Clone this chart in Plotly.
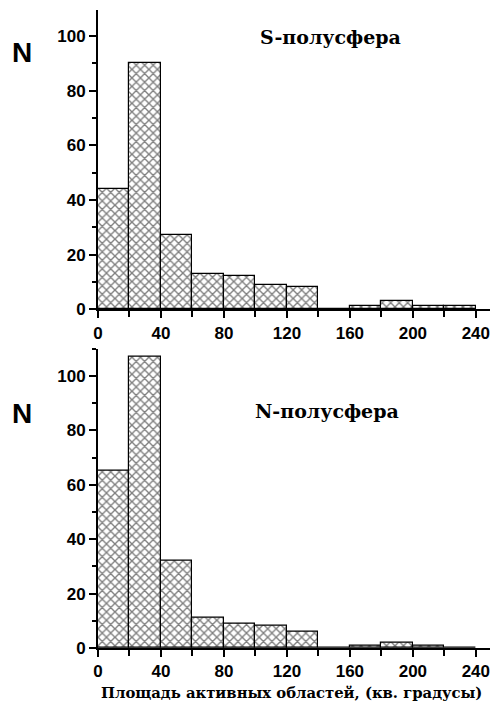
import plotly.graph_objects as go
from plotly.subplots import make_subplots

bin_left = [0, 20, 40, 60, 80, 100, 120, 140, 160, 180, 200, 220]
bin_width = 20
s_counts = [44, 90, 27, 13, 12, 9, 8, 0, 1, 3, 1, 1]
n_counts = [65, 107, 32, 11, 9, 8, 6, 0, 1, 2, 1, 0]
x_ticks = [0, 40, 80, 120, 160, 200, 240]
y_ticks = [0, 20, 40, 60, 80, 100]
panel_titles = ["S-полусфера", "N-полусфера"]
x_title = "Площадь активных областей, (кв. градусы)"

centers = [b + bin_width / 2 for b in bin_left]

fig = make_subplots(rows=2, cols=1, vertical_spacing=0.062)

for i, counts in enumerate([s_counts, n_counts]):
    fig.add_trace(go.Bar(
        x=centers, y=counts, width=bin_width,
        marker=dict(color="white",
                    line=dict(color="black", width=1.2),
                    pattern=dict(shape="x", size=6, solidity=0.4,
                                 fgcolor="black", bgcolor="white")),
        showlegend=False,
    ), row=i + 1, col=1)

tickfont = dict(family="Liberation Sans, Arial", size=17, color="black", weight="bold")
axis_common = dict(showline=True, linecolor="black", linewidth=1.8, showgrid=False,
                   zeroline=False, ticks="outside", ticklen=7, tickwidth=1.5,
                   tickcolor="black", tickfont=tickfont)

for r in (1, 2):
    fig.update_xaxes(range=[0, 249], tickvals=x_ticks,
                     minor=dict(dtick=20, tick0=0, ticks="outside", ticklen=6,
                                tickwidth=1.5, tickcolor="black"),
                     row=r, col=1, **axis_common)
    fig.update_yaxes(range=[0, 110 if r == 2 else 109.5], tickvals=y_ticks,
                     minor=dict(dtick=10, tick0=0, ticks="outside", ticklen=4,
                                tickwidth=1.5, tickcolor="black"),
                     row=r, col=1, **axis_common)

def px_x(p):
    return (p - 98) / 392

def px_y(p):
    return (648 - p) / 638

titlefont = dict(family="DejaVu Serif", size=19, color="black", weight="bold")
nfont = dict(family="Liberation Sans, Arial", size=28, color="black", weight="bold")
ann = dict(xref="paper", yref="paper", showarrow=False, xanchor="center", yanchor="middle")

fig.add_annotation(x=px_x(330), y=px_y(37), text=panel_titles[0], font=titlefont, **ann)
fig.add_annotation(x=px_x(327), y=px_y(411), text=panel_titles[1], font=titlefont, **ann)
fig.add_annotation(x=px_x(22), y=px_y(52), text="N", font=nfont, **ann)
fig.add_annotation(x=px_x(22), y=px_y(413), text="N", font=nfont, **ann)
fig.add_annotation(x=px_x(291), y=px_y(692), text=x_title,
                   font=dict(family="DejaVu Serif", size=14.8, color="black", weight="bold"), **ann)

fig.update_layout(width=493, height=709, plot_bgcolor="white", paper_bgcolor="white",
                  margin=dict(l=98, r=3, t=10, b=61), bargap=0)
fig.update_yaxes(domain=[0.531, 1.0], row=1, col=1)
fig.update_yaxes(domain=[0.0, 0.469], row=2, col=1)

fig.write_html("out.html", config={"displayModeBar": False},
               post_script="document.body.style.margin='0';document.body.style.padding='0';")
